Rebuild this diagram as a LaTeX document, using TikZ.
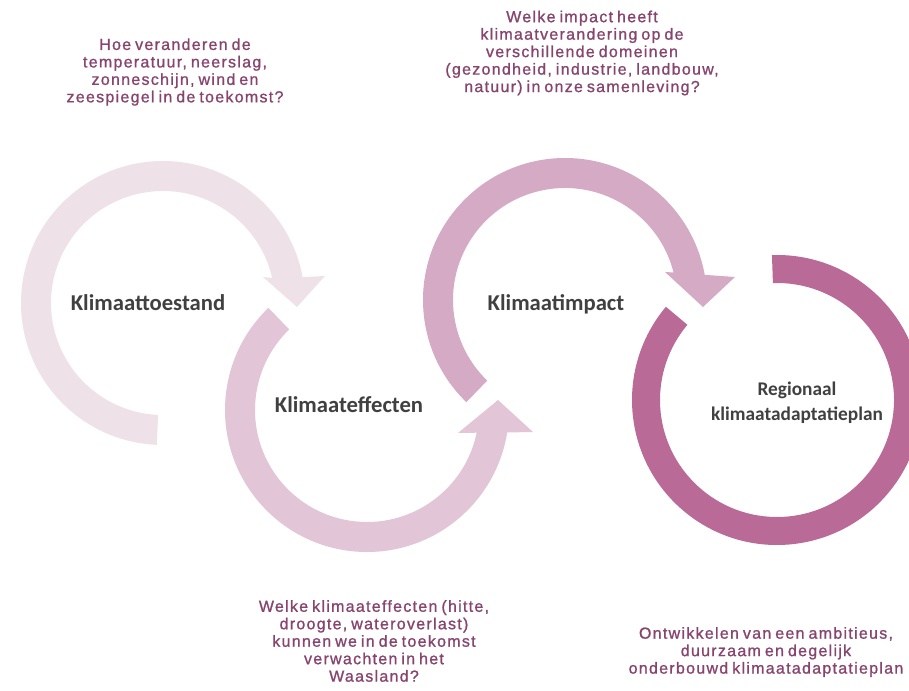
\documentclass[tikz,border=0pt]{standalone}
\usepackage{fontspec}
\setmainfont{Liberation Sans}
\newfontfamily\qfont{Liberation Sans}[LetterSpace=8, WordSpace=0.7, FakeBold=1]
\newfontfamily\labelfont{Carlito}
\definecolor{ringA}{RGB}{238,226,232}
\definecolor{ringB}{RGB}{226,197,214}
\definecolor{ringC}{RGB}{213,170,197}
\definecolor{ringD}{RGB}{185,106,150}
\definecolor{qtext}{RGB}{135,68,110}
\definecolor{ltext}{RGB}{64,64,64}
\tikzset{
  question/.style={align=center, text=qtext, font=\qfont\fontsize{12}{13.1}\selectfont, inner sep=0pt},
  heading/.style={align=center, text=ltext, font=\labelfont\bfseries\fontsize{17}{20}\selectfont, inner sep=0pt},
}
\begin{document}
\begin{tikzpicture}[x=0.75pt,y=0.75pt]
\useasboundingbox (0,-691) rectangle (909,0);
\clip (0,-691) rectangle (909,0);
\fill[white] (0,-691) rectangle (909,0);
% ring 1
\begin{scope}[shift={(163,-303)}]
\fill[ringA] (-92.5:142) arc[start angle=-92.5, end angle=-349.5, radius=142]
  -- (162,27) -- (134,-4) -- (100,26) -- (-347.1:112)
  arc[start angle=-347.1, end angle=-92.5, radius=112] -- cycle;
\end{scope}
% ring 2
\begin{scope}[shift={(367,-410)}]
\fill[ringB] (134:142) arc[start angle=134, end angle=350.9, radius=142]
  -- (166,-22) -- (131,10) -- (91,-23) -- (348.3:112)
  arc[start angle=348.3, end angle=134, radius=112] -- cycle;
\end{scope}
% ring 3
\begin{scope}[shift={(565,-300)}]
\fill[ringC] (-134:142) arc[start angle=-134, end angle=-349.8, radius=142]
  -- (170,23) -- (138,-7) -- (100,28) -- (-345.8:112)
  arc[start angle=-345.8, end angle=-134, radius=112] -- cycle;
\end{scope}
% ring 4
\begin{scope}[shift={(777,-400)}]
\fill[ringD] (140:145) arc[start angle=140, end angle=452, radius=145]
  -- (452:117) arc[start angle=452, end angle=140, radius=117] -- cycle;
\end{scope}
\node[heading] (toestand) at (148,-303) {Klimaattoestand};
\node[heading] (effecten) at (349,-405) {Klimaateffecten};
\node[heading] (impact) at (556,-304) {Klimaatimpact};
\node[heading, font=\labelfont\bfseries\fontsize{14.5}{18.75}\selectfont] (plan) at (797,-403) {Regionaal\\klimaatadaptatieplan};
\node[question] (q1) at (175,-72) {Hoe veranderen de\\temperatuur, neerslag,\\zonneschijn, wind en\\zeespiegel in de toekomst?};
\node[question] (q2) at (582,-53) {Welke impact heeft\\klimaatverandering op de\\verschillende domeinen\\(gezondheid, industrie, landbouw,\\natuur) in onze samenleving?};
\node[question] (q3) at (374,-641) {Welke klimaateffecten (hitte,\\droogte, wateroverlast)\\kunnen we in de toekomst\\verwachten in het\\Waasland?};
\node[question] (q4) at (766,-652) {Ontwikkelen van een ambitieus,\\duurzaam en degelijk\\onderbouwd klimaatadaptatieplan};
\end{tikzpicture}
\end{document}
